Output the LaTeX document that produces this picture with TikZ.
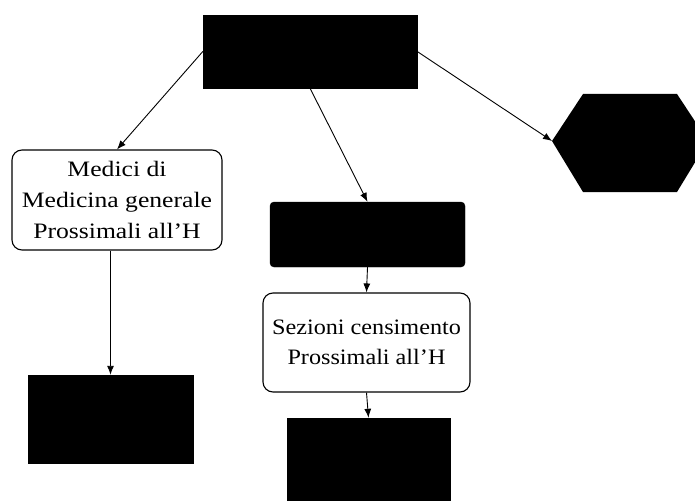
\documentclass[tikz,border=0pt]{standalone}
\usepackage{fontspec}
\usepackage{graphicx}
\setmainfont{Liberation Serif}[FakeStretch=1.1]
\usetikzlibrary{arrows.meta}
\newcommand{\wideline}[1]{\scalebox{1.06}[1]{#1}}
\begin{document}
\begin{tikzpicture}[x=1pt,y=-1pt,
  box/.style={draw=black,line width=1.1pt,rounded corners=10pt,inner sep=0pt,
    align=center,font=\fontsize{22}{30}\selectfont},
  solidbox/.style={draw=black,fill=black,inner sep=0pt},
  link/.style={draw=black,line width=0.9pt,-{Latex[length=9pt,width=7pt]}}]
\clip (0,0) rectangle (695,500);

% boxes
\node[solidbox,minimum width=214pt,minimum height=73pt] (top) at (310,51.5) {};
\node[box,minimum width=210pt,minimum height=100pt,font=\fontsize{22}{31}\selectfont] (medici) at (117,200)
  {\wideline{Medici di}\\\wideline{Medicina generale}\\\wideline{Prossimali all'H}};
\node[solidbox,rounded corners=4pt,minimum width=195pt,minimum height=65pt] (mid) at (367.5,234.5) {};
\node[box,minimum width=207pt,minimum height=99pt] (sezioni) at (366.5,342.5)
  {Sezioni censimento\\Prossimali all'H};
\node[solidbox,minimum width=165pt,minimum height=88pt] (botleft) at (110.5,419) {};
\node[solidbox,minimum width=163pt,minimum height=100pt] (botmid) at (368.5,468) {};

% flat-topped hexagon on the right
\fill[black] (552,141) -- (583,94) -- (677,94) -- (708,141) -- (677,192) -- (583,192) -- cycle;
\coordinate (hexL) at (552,141);

% connectors
\draw[link] (top.west) -- (medici.north);
\draw[link] (top.south) -- (mid.north);
\draw[link] (top.east) -- (hexL);
\draw[link] (mid.south) -- (sezioni.north);
\draw[link] (botleft.north |- medici.south) -- (botleft.north);
\draw[link] (sezioni.south) -- (botmid.north);
\end{tikzpicture}
\end{document}
